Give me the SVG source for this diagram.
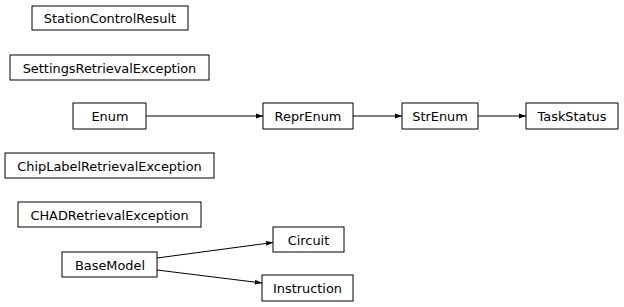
<svg xmlns="http://www.w3.org/2000/svg" width="624" height="307" viewBox="0 0 624 307">
<defs>
<style>
.n rect{fill:#fff;stroke:#000;stroke-width:1}
.n text{font-family:"DejaVu Sans",sans-serif;font-size:12.9px;fill:#000;text-anchor:middle}
.e line{stroke:#000;stroke-width:1;fill:none}
</style>
<marker id="a" viewBox="0 0 10 10" refX="10" refY="5" markerWidth="9" markerHeight="7" markerUnits="userSpaceOnUse" orient="auto">
<path d="M0,1.5 L10,5 L0,8.5 Z" fill="#000"/>
</marker>
</defs>
<rect width="624" height="307" fill="#fff"/>
<g class="e">
<line x1="146" y1="116" x2="263" y2="116" marker-end="url(#a)"/>
<line x1="353" y1="116" x2="402" y2="116" marker-end="url(#a)"/>
<line x1="478" y1="116" x2="526" y2="116" marker-end="url(#a)"/>
<line x1="157" y1="258" x2="273" y2="242.5" marker-end="url(#a)"/>
<line x1="157" y1="270" x2="262" y2="283" marker-end="url(#a)"/>
</g>
<g id="StationControlResult" class="n"><rect x="32" y="6" width="156" height="24"/><text x="110" y="22.5">StationControlResult</text></g>
<g id="SettingsRetrievalException" class="n"><rect x="10" y="55" width="199" height="25"/><text x="109.5" y="72.5">SettingsRetrievalException</text></g>
<g id="Enum" class="n"><rect x="73" y="103" width="73" height="26"/><text x="110" y="121">Enum</text></g>
<g id="ReprEnum" class="n"><rect x="263" y="103" width="90" height="26"/><text x="308" y="121">ReprEnum</text></g>
<g id="StrEnum" class="n"><rect x="402" y="103" width="76" height="26"/><text x="440" y="121">StrEnum</text></g>
<g id="TaskStatus" class="n"><rect x="526" y="103" width="92" height="26"/><text x="572" y="121">TaskStatus</text></g>
<g id="ChipLabelRetrievalException" class="n"><rect x="5" y="153" width="209" height="25"/><text x="109.5" y="170.5">ChipLabelRetrievalException</text></g>
<g id="CHADRetrievalException" class="n"><rect x="18" y="202" width="183" height="25"/><text x="109.5" y="219.5">CHADRetrievalException</text></g>
<g id="Circuit" class="n"><rect x="273" y="227" width="71" height="25"/><text x="308.5" y="244.5">Circuit</text></g>
<g id="BaseModel" class="n"><rect x="62" y="252" width="95" height="25"/><text x="110" y="269.5">BaseModel</text></g>
<g id="Instruction" class="n"><rect x="262" y="275" width="91" height="26"/><text x="307.5" y="293">Instruction</text></g>
</svg>
